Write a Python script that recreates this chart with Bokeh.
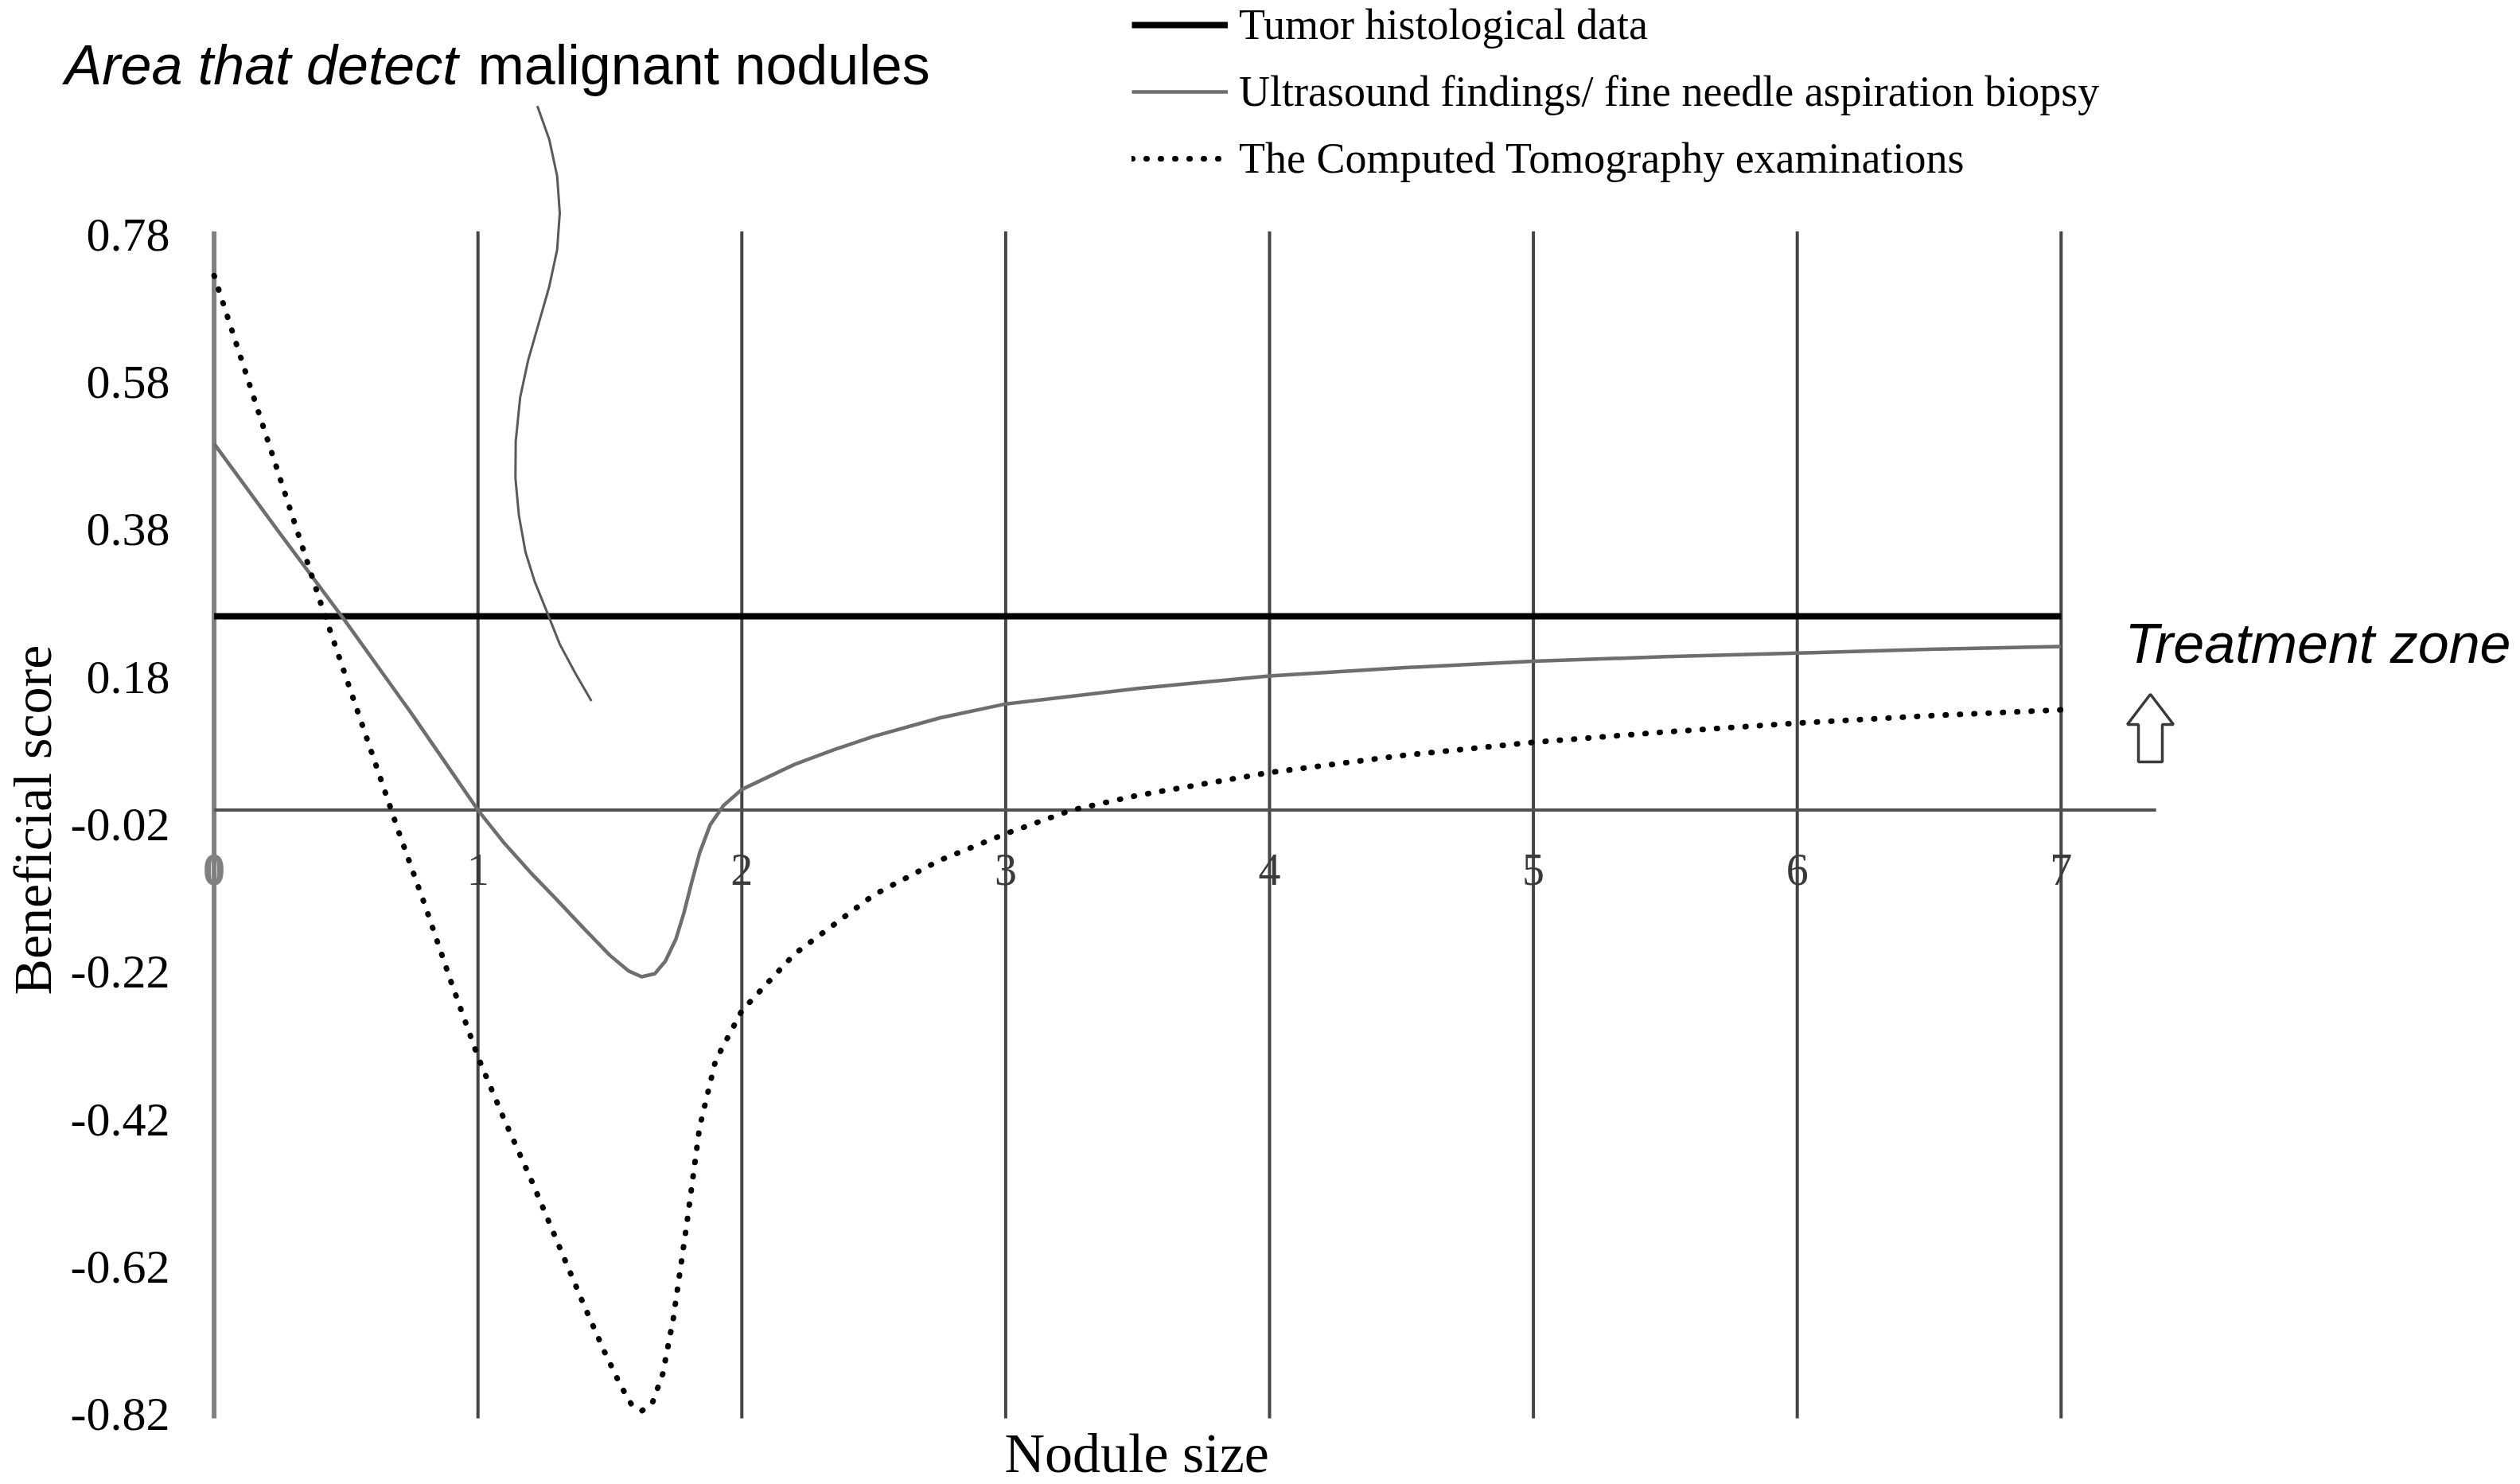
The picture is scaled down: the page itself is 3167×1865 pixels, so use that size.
import numpy as np
from bokeh.plotting import figure
from bokeh.models import (Range1d, Legend, LegendItem, PolyAnnotation, Label,
                          ColumnDataSource)
from bokeh.embed import file_html
from bokeh.resources import INLINE
from bokeh.core.properties import value

# ---------------- data ----------------
x_ticks = [0, 1, 2, 3, 4, 5, 6, 7]
x_tick_labels = ["0", "1", "2", "3", "4", "5", "6", "7"]
y_ticks = [0.78, 0.58, 0.38, 0.18, -0.02, -0.22, -0.42, -0.62, -0.82]
y_tick_labels = ["0.78", "0.58", "0.38", "0.18", "-0.02", "-0.22", "-0.42", "-0.62", "-0.82"]

tumor_x = [0, 7]
tumor_y = [0.263, 0.263]

us_x = [0.0, 0.25, 0.5, 0.75, 1.0, 1.1, 1.2, 1.3, 1.4, 1.5, 1.57, 1.62, 1.67,
        1.71, 1.75, 1.78, 1.81, 1.84, 1.88, 1.93, 2.0, 2.1, 2.2, 2.35, 2.5,
        2.75, 3.0, 3.5, 4.0, 4.5, 5.0, 5.5, 6.0, 6.5, 7.0]
us_y = [0.497, 0.375, 0.255, 0.13, 0.0, -0.045, -0.085, -0.122, -0.16, -0.197,
        -0.218, -0.226, -0.222, -0.205, -0.175, -0.14, -0.098, -0.058, -0.02,
        0.006, 0.028, 0.045, 0.062, 0.082, 0.10, 0.125, 0.144, 0.165, 0.182,
        0.193, 0.202, 0.208, 0.213, 0.218, 0.222]

ct_x = [0.0, 0.1, 0.2, 0.3, 0.4, 0.5, 0.6, 0.7, 0.8, 0.9, 1.0, 1.1, 1.2, 1.3,
        1.4, 1.48, 1.54, 1.58, 1.62, 1.66, 1.7, 1.74, 1.79, 1.84, 1.9, 2.0,
        2.2, 2.5, 2.75, 3.0, 3.25, 3.5, 4.0, 4.5, 5.0, 5.5, 6.0, 6.5, 7.0]
ct_y = [0.725, 0.615, 0.505, 0.395, 0.285, 0.18, 0.075, -0.03, -0.13, -0.235,
        -0.335, -0.42, -0.50, -0.585, -0.67, -0.735, -0.78, -0.805, -0.815,
        -0.805, -0.765, -0.69, -0.565, -0.43, -0.34, -0.272, -0.195, -0.115,
        -0.068, -0.032, 0.0, 0.02, 0.051, 0.074, 0.092, 0.106, 0.118, 0.128,
        0.136]

# hand-drawn pointer from the annotation to the curves
pointer_x = [1.225, 1.27, 1.30, 1.31, 1.30, 1.27, 1.23, 1.19, 1.16, 1.143, 1.142,
             1.155, 1.18, 1.215, 1.26, 1.31, 1.37, 1.43]
pointer_y = [0.955, 0.91, 0.86, 0.81, 0.76, 0.71, 0.66, 0.61, 0.56, 0.50, 0.45,
             0.40, 0.35, 0.31, 0.27, 0.225, 0.185, 0.148]

zero_line_end = 7.36

# ---------------- layout ----------------
W, H = 3166, 1864
OFF = 0                       # the canvas starts at the page's top-left
X0_PX, UNIT_X = 268.6, 331.6  # reference pixel of x=0 and px per unit
Y0_PX, UNIT_Y = 1017.6, 926.6


def dx(px):
    return (px - X0_PX) / UNIT_X


def dy(py):
    return (Y0_PX - py) / UNIT_Y


p = figure(width=W, height=H, output_backend="svg", toolbar_location=None,
           x_range=Range1d(dx(OFF), dx(OFF + W)),
           y_range=Range1d(dy(OFF + H), dy(OFF)),
           x_axis_location=None, y_axis_location=None, min_border=0)
p.grid.visible = False
p.outline_line_color = None
p.background_fill_color = "white"
p.border_fill_color = "white"

SERIF = "Liberation Serif"
SANS = "Liberation Sans"

# vertical grid lines at the x ticks
vx = x_ticks[1:]
p.segment(x0=vx, y0=[min(y_ticks) - 0.005] * len(vx), x1=vx,
          y1=[max(y_ticks) + 0.005] * len(vx), line_color="#454545", line_width=4)
p.segment(x0=[x_ticks[0]], y0=[min(y_ticks) - 0.005], x1=[x_ticks[0]],
          y1=[max(y_ticks) + 0.005], line_color="#808080", line_width=6)

# horizontal zero line
p.segment(x0=[0], y0=[0], x1=[zero_line_end], y1=[0], line_color="#505050", line_width=4)

# x tick labels drawn inside the chart
xsrc = ColumnDataSource(dict(
    x=x_ticks, y=[-0.081] * len(x_ticks), t=x_tick_labels,
    c=["#808080" if v == 0 else "#3a3a3a" for v in x_ticks],
    s=["bold" if v == 0 else "normal" for v in x_ticks]))
p.text(x="x", y="y", text="t", source=xsrc, text_font=value(SERIF),
       text_font_size="56px", text_align="center", text_baseline="middle",
       text_color="c", text_font_style="s")

# y tick labels
p.text(x=[dx(213)] * len(y_ticks), y=y_ticks, text=y_tick_labels,
       text_font=value(SERIF), text_font_size="60px", text_align="right",
       text_baseline="middle", text_color="black")

# series
r_t = p.line(tumor_x, tumor_y, line_color="black", line_width=8)
r_us = p.line(us_x, us_y, line_color="#6e6e6e", line_width=4.5)
r_ct = p.line(ct_x, ct_y, line_color="black", line_width=7, line_dash="1 17",
              line_cap="round")

# pointer curve
p.line(pointer_x, pointer_y, line_color="#5a5a5a", line_width=3)

# annotations
p.add_layout(Label(x=dx(81), y=dy(81), text="Area that detect", text_font=SANS,
                   text_font_style="italic", text_font_size="70px",
                   text_baseline="middle", text_align="left", text_color="black"))
p.add_layout(Label(x=dx(600), y=dy(81), text="malignant nodules", text_font=SANS,
                   text_font_size="70px", text_baseline="middle", text_align="left",
                   text_color="black"))
p.add_layout(Label(x=dx(2670), y=dy(808), text="Treatment zone", text_font=SANS,
                   text_font_style="italic", text_font_size="70px",
                   text_baseline="middle", text_align="left", text_color="black"))

# hollow up arrow below "Treatment zone"
arrow_px = [(2702, 872), (2673, 910), (2687, 910), (2687, 957), (2717, 957),
            (2717, 910), (2731, 910)]
p.add_layout(PolyAnnotation(xs=[dx(a) for a, b in arrow_px],
                            ys=[dy(b) for a, b in arrow_px],
                            fill_color="white", fill_alpha=1.0,
                            line_color="#3a3a3a", line_alpha=1.0, line_width=3.5))

# axis titles
p.add_layout(Label(x=dx(40), y=dy(1030), text="Beneficial score", text_font=SERIF,
                   text_font_size="68px", angle=np.pi / 2, text_align="center",
                   text_baseline="middle", text_color="black"))
p.add_layout(Label(x=dx(1262), y=dy(1826), text="Nodule size", text_font=SERIF,
                   text_font_size="70px", text_align="left", text_baseline="middle",
                   text_color="black"))

# legend
row_h, pitch = 80, 84
legend_h = 3 * row_h + 2 * (pitch - row_h)
top_canvas = (31 - OFF) - row_h / 2
legend = Legend(items=[
    LegendItem(label="Tumor histological data", renderers=[r_t]),
    LegendItem(label="Ultrasound findings/ fine needle aspiration biopsy", renderers=[r_us]),
    LegendItem(label="The Computed Tomography examinations", renderers=[r_ct]),
], location=(1422 - OFF, H - (top_canvas + legend_h)), orientation="vertical",
    glyph_width=121, glyph_height=row_h, label_height=row_h, spacing=pitch - row_h,
    padding=0, margin=0, label_standoff=14, label_text_font=SERIF,
    label_text_font_size="54px", label_text_color="black",
    border_line_color=None, background_fill_alpha=0)
p.add_layout(legend)

open("out.html", "w").write(file_html(p, INLINE))
